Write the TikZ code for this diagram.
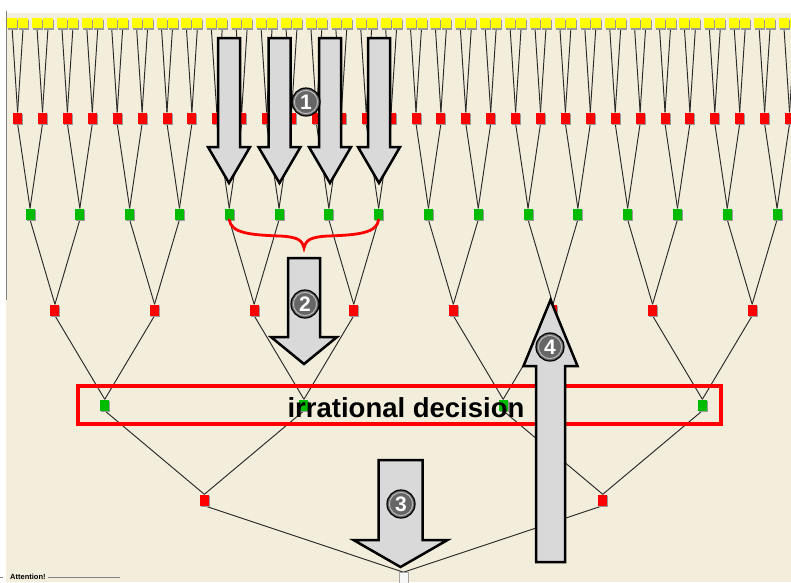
\documentclass[tikz,border=0pt]{standalone}
\usepackage{fontspec}
\setmainfont{Liberation Sans}
\usetikzlibrary{shadows}

\definecolor{bg}{HTML}{F3EDDB}
\definecolor{edgec}{HTML}{2A2A2A}
\definecolor{nyel}{HTML}{FFFF00}
\definecolor{nred}{HTML}{FF0000}
\definecolor{ngrn}{HTML}{00BC00}
\definecolor{arrfill}{HTML}{D9D9D9}
\definecolor{badge}{HTML}{666666}

\pgfdeclarelayer{canvas}
\pgfdeclarelayer{wires}
\pgfsetlayers{canvas,wires,main}

\tikzset{
  box/.style={rectangle, inner sep=0pt, minimum width=9pt, minimum height=11pt,
    general shadow={fill=gray!80, shadow xshift=1pt, shadow yshift=-1.5pt}},
  leafbox/.style={box, fill=nyel, minimum width=10pt, minimum height=10pt},
  redbox/.style={box, fill=nred},
  grnbox/.style={box, fill=ngrn},
  rootbox/.style={box, fill=white!94!gray, draw=gray!70, line width=0.6pt},
  link/.style={draw=edgec, line width=0.95pt},
  bigarrow/.style={draw=black, line width=2.5pt, fill=arrfill, line join=miter},
  badgec/.style={circle, draw=black, line width=1.2pt, fill=badge, minimum size=28pt,
    inner sep=0pt, text=white, font=\bfseries\fontsize{21}{21}\selectfont,
    path picture={\draw[gray!55, line width=1pt] (path picture bounding box.center) circle (11.6pt);}},
}

% block arrow: centre x, half shaft width, shaft end y, head base y, half head width, tip y
\newcommand\blockarrow[6]{%
  \draw[bigarrow] (#1-#2,#3) -- (#1+#2,#3) -- (#1+#2,#4) -- (#1+#5,#4) -- (#1,#6)
    -- (#1-#5,#4) -- (#1-#2,#4) -- cycle;}

\begin{document}
\begin{tikzpicture}[x=1pt, y=-1pt]
\useasboundingbox (0,0) rectangle (791,582);
\clip (0,0) rectangle (791,582);

\begin{pgfonlayer}{canvas}
  \fill[white] (0,0) rectangle (791,582);
  \fill[bg] (6,13) rectangle (791,582);
  \draw[gray, line width=0.8pt] (6,11) -- (6,300);
\end{pgfonlayer}

% tree nodes, level by level
\foreach \i in {0,...,31} {
  \node[redbox]  (ra\i) at ({17.6+24.9*\i},118) {};
  \node[leafbox] (ya\i) at ({17.6+24.9*\i-5.5},23) {};
  \node[leafbox] (yb\i) at ({17.6+24.9*\i+5.5},23) {};
}
\foreach \j in {0,...,15} \node[grnbox] (gb\j) at ({30.05+49.8*\j},214) {};
\foreach \k in {0,...,7}  \node[redbox] (rc\k) at ({54.95+99.6*\k},310) {};
\foreach \m in {0,...,3}  \node[grnbox] (gd\m) at ({104.75+199.2*\m},405) {};
\foreach \n in {0,1}      \node[redbox] (re\n) at ({204.35+398.4*\n},500) {};
\node[rootbox] (root) at (403.55,578) {};

% tree connectors
\begin{pgfonlayer}{wires}
  \foreach \i in {0,...,31} {
    \draw[link] (ya\i.south) -- (ra\i.north);
    \draw[link] (yb\i.south) -- (ra\i.north);
  }
  \foreach \j in {0,...,15} {
    \pgfmathtruncatemacro\a{2*\j}\pgfmathtruncatemacro\b{2*\j+1}
    \draw[link] (ra\a.south) -- (gb\j.north);
    \draw[link] (ra\b.south) -- (gb\j.north);
  }
  \foreach \k in {0,...,7} {
    \pgfmathtruncatemacro\a{2*\k}\pgfmathtruncatemacro\b{2*\k+1}
    \draw[link] (gb\a.south) -- (rc\k.north);
    \draw[link] (gb\b.south) -- (rc\k.north);
  }
  \foreach \m in {0,...,3} {
    \pgfmathtruncatemacro\a{2*\m}\pgfmathtruncatemacro\b{2*\m+1}
    \draw[link] (rc\a.south) -- (gd\m.north);
    \draw[link] (rc\b.south) -- (gd\m.north);
  }
  \foreach \n in {0,1} {
    \pgfmathtruncatemacro\a{2*\n}\pgfmathtruncatemacro\b{2*\n+1}
    \draw[link] (gd\a.south) -- (re\n.north);
    \draw[link] (gd\b.south) -- (re\n.north);
  }
  \draw[link] (re0.south) -- (root.north);
  \draw[link] (re1.south) -- (root.north);
\end{pgfonlayer}

% highlighted level
\node[draw=nred, line width=3.2pt, minimum width=643pt, minimum height=38pt, inner sep=0pt]
  (frame) at (399.5,405) {};
\node[anchor=base, inner sep=0pt, font=\bfseries\fontsize{27.5}{27.5}\selectfont]
  (label) at (406,417) {irrational decision};

% brace under the four green nodes
\draw[nred, line width=2.8pt, line cap=round]
  (gb4.south) .. controls (231,233) and (250,235) .. (280,236)
  .. controls (298,237) and (302,240) .. (304,248)
  .. controls (306,240) and (310,237) .. (328,236)
  .. controls (358,235) and (377,233) .. (gb7.south);

% step arrows
\foreach \c in {229,279.5,330,379} {\blockarrow{\c}{11}{38}{147}{21}{183}}
\blockarrow{304}{16}{258}{337}{33}{364}
\blockarrow{400.5}{22}{460}{540}{47}{567}
\blockarrow{550.5}{14.5}{562}{366}{27}{300}

% step numbers
\node[badgec] (s1) at (306,102) {1};
\node[badgec] (s2) at (305,304) {2};
\node[badgec] (s3) at (401,504) {3};
\node[badgec] (s4) at (550,347) {4};

% group box caption at the lower left
\node[anchor=base west, inner sep=0pt, font=\bfseries\fontsize{7.5}{7.5}\selectfont] (att) at (10,579) {Attention!};
\draw[gray, line width=0.6pt] (0,577.5) -- (3,577.5);
\draw[gray, line width=0.6pt] ([xshift=2pt]att.base east) ++(0,-1.5) -- (120,577.5);
\end{tikzpicture}
\end{document}
